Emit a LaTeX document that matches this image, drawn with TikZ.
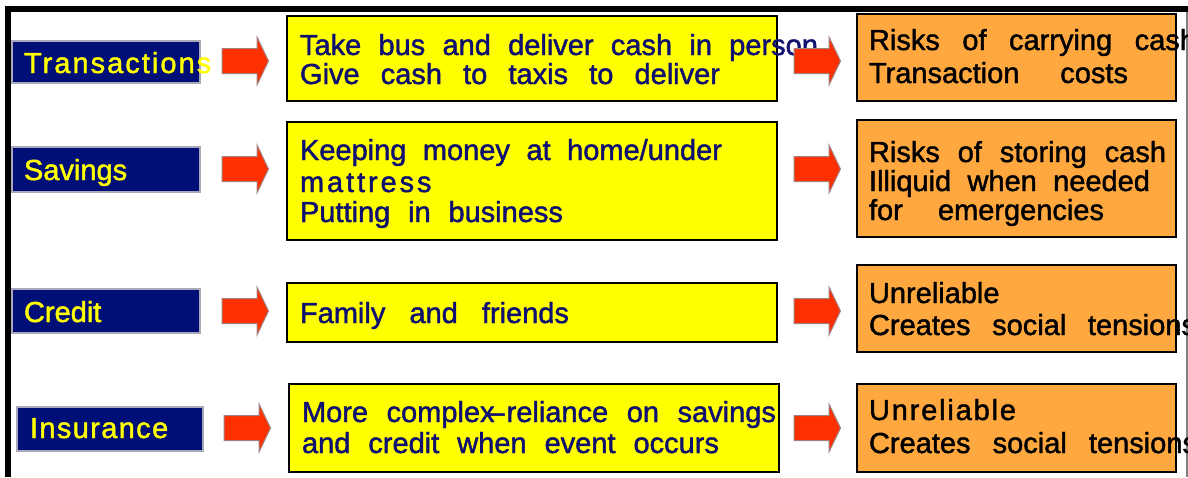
\documentclass[tikz,border=0pt]{standalone}
\usepackage{fontspec}
\setmainfont{Liberation Sans}[FakeBold=1.5]
\usetikzlibrary{fit}
\definecolor{navyfill}{HTML}{000E78}
\definecolor{labedge}{HTML}{A8A8B8}
\definecolor{ybox}{HTML}{FFFF00}
\definecolor{obox}{HTML}{FFA840}
\definecolor{txtnavy}{HTML}{101070}
\definecolor{arrowred}{HTML}{FF3000}
\definecolor{arrowedge}{HTML}{A08080}
\newdimen\pxu \pxu=0.5pt
\newcommand\tline[5]{\node[#1,anchor=base west] (#2) at (#3) {\makebox[#4\pxu][s]{\spaceskip=3pt plus 40pt\relax #5}};}
\newcommand\blockarrow[2]{\filldraw[blockarrow] (#1,#2-12.5) -- (#1+35,#2-12.5) -- (#1+35,#2-24) -- (#1+46.5,#2) -- (#1+35,#2+24) -- (#1+35,#2+12.5) -- (#1,#2+12.5) -- cycle;}
\begin{document}
\begin{tikzpicture}[x=0.5pt,y=-0.5pt,
  every node/.style={inner sep=0pt, outer sep=0pt, font=\fontsize{14.5}{17}\selectfont},
  lab/.style={draw=labedge, fill=navyfill, line width=1pt},
  ybx/.style={draw=black, fill=ybox, line width=1.25pt},
  obx/.style={draw=black, fill=obox, line width=1pt},
  labtxt/.style={text=ybox},
  ytxt/.style={text=txtnavy},
  otxt/.style={text=black},
  blockarrow/.style={fill=arrowred, draw=arrowedge, line width=0.5pt}]
\useasboundingbox (0,0) rectangle (1188,477);
\begin{scope}
\clip (0,0) rectangle (1188,477);
% frame
\draw[line width=3pt] (5,8.5) -- (1188,8.5);
\draw[line width=3pt] (8,5.5) -- (8,477);
\draw[gray, line width=0.8pt] (1187,12) -- (1187,477);
% label boxes
\node[lab, fit={(12,41)(200,83)}] (lT) {};
\node[lab, fit={(12,147)(200,192)}] (lS) {};
\node[lab, fit={(12,289)(200,333)}] (lC) {};
\node[lab, fit={(17,407)(203,451)}] (lI) {};
% yellow boxes
\node[ybx, fit={(287,16)(777,101)}] (y1) {};
\node[ybx, fit={(287,122)(777,240)}] (y2) {};
\node[ybx, fit={(287,283)(777,342)}] (y3) {};
\node[ybx, fit={(289,384)(779,472)}] (y4) {};
% orange boxes
\node[obx, fit={(857,14)(1176,101)}] (o1) {};
\node[obx, fit={(857,120)(1176,237)}] (o2) {};
\node[obx, fit={(857,265)(1176,352)}] (o3) {};
\node[obx, fit={(857,384)(1176,472)}] (o4) {};
% label texts
\node[labtxt,anchor=base west] (nT) at (24,73) {\addfontfeature{LetterSpace=7}Transactions};
\node[labtxt,anchor=base west] (nS) at (24,180) {Savings};
\node[labtxt,anchor=base west] (nC) at (24,322) {Credit};
\node[labtxt,anchor=base west] (nI) at (30,438) {\addfontfeature{LetterSpace=4.7}Insurance};
% row 1
\tline{ytxt}{t1a}{300,55}{518}{Take bus and deliver cash in person}
\tline{ytxt}{t1b}{300,84}{420}{Give cash to taxis to deliver}
\tline{otxt}{r1a}{869,50}{327}{Risks of carrying cash}
\tline{otxt}{r1b}{869,83}{259}{Transaction costs}
% row 2
\tline{ytxt}{t2a}{300,160}{422}{Keeping money at home/under}
\node[ytxt,anchor=base west] (t2b) at (300,192) {\addfontfeature{LetterSpace=10}mattress};
\tline{ytxt}{t2c}{300,222}{263}{Putting in business}
\tline{otxt}{r2a}{869,162}{297}{Risks of storing cash}
\tline{otxt}{r2b}{869,191}{281}{Illiquid when needed}
\tline{otxt}{r2c}{869,220}{235}{for emergencies}
% row 3
\tline{ytxt}{t3a}{300,323}{269}{Family and friends}
\node[otxt,anchor=base west] (r3a) at (869,303) {Unreliable};
\tline{otxt}{r3b}{869,335}{327}{Creates social tensions}
% row 4
\tline{ytxt}{t4a}{302,422}{474}{More complex\kern-3pt–\kern1pt reliance on savings}
\tline{ytxt}{t4b}{302,453}{417}{and credit when event occurs}
\node[otxt,anchor=base west] (r4a) at (869,420) {\addfontfeature{LetterSpace=6.3}Unreliable};
\tline{otxt}{r4b}{869,453}{328}{Creates social tensions}
% block arrows
\blockarrow{222}{61}
\blockarrow{794}{61}
\blockarrow{222}{169}
\blockarrow{794}{169}
\blockarrow{222}{311}
\blockarrow{794}{311}
\blockarrow{224}{428}
\blockarrow{794}{428}
\end{scope}
\end{tikzpicture}
\end{document}
